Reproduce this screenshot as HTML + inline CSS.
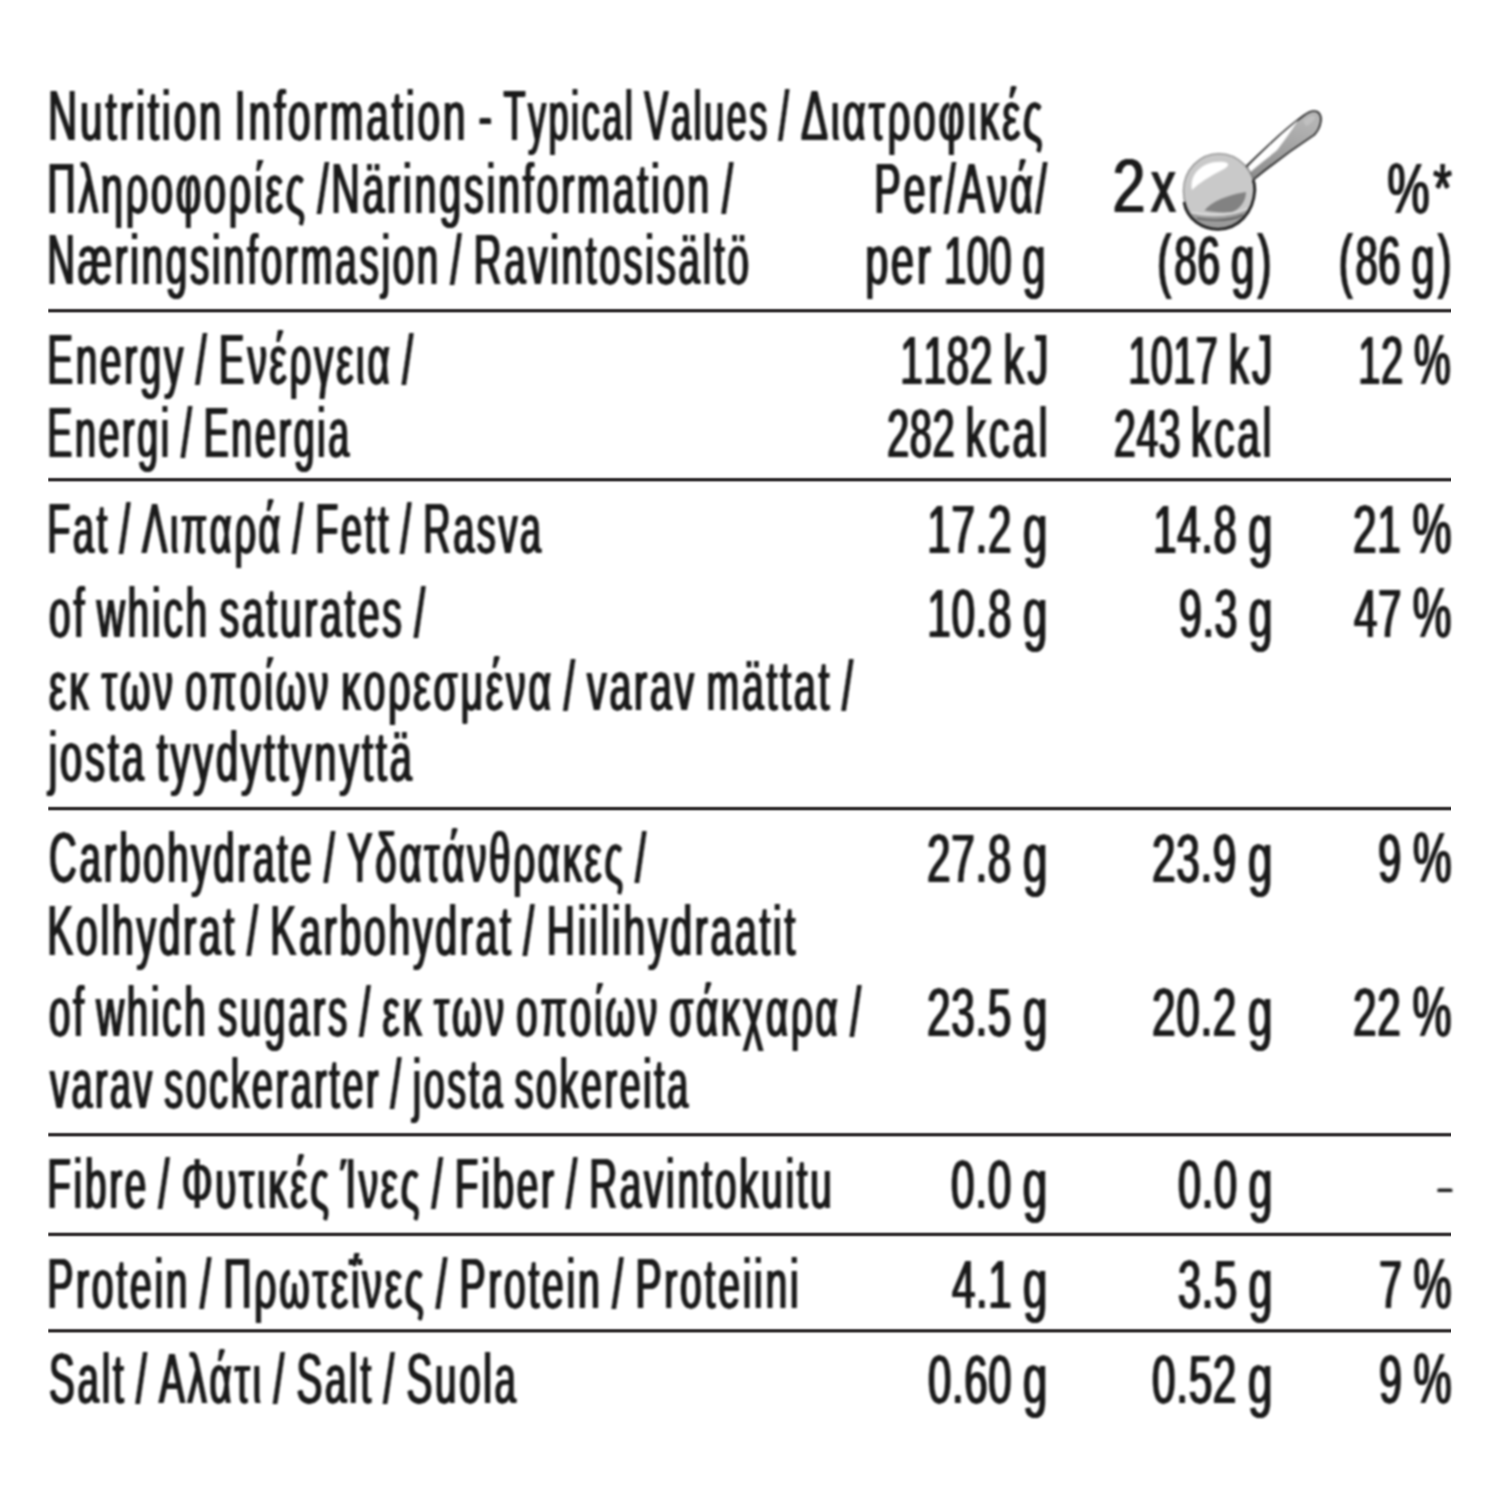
<!DOCTYPE html>
<html><head><meta charset="utf-8"><style>
html,body{margin:0;padding:0;background:#fff;}
svg{display:block;}
text{font-family:"Liberation Sans",sans-serif;font-size:70.5px;fill:#1c1a1b;font-kerning:none;letter-spacing:5px;word-spacing:-7px;}
g.f text{fill:#000;}
.d{font-size:68px;letter-spacing:1px;}
</style></head><body>
<svg width="1500" height="1500" viewBox="0 0 1500 1500">
<rect width="1500" height="1500" fill="#fff"/>
<defs><filter id="bl" x="0" y="0" width="1500" height="1500" filterUnits="userSpaceOnUse" color-interpolation-filters="sRGB"><feGaussianBlur stdDeviation="1.0 0.8"/></filter></defs>
<rect x="48.3" y="307" width="1402.7" height="1" fill="#231f20" fill-opacity="0.023"/>
<rect x="48.3" y="308" width="1402.7" height="1" fill="#231f20" fill-opacity="0.240"/>
<rect x="48.3" y="309" width="1402.7" height="1" fill="#231f20" fill-opacity="0.718"/>
<rect x="48.3" y="310" width="1402.7" height="1" fill="#231f20" fill-opacity="0.960"/>
<rect x="48.3" y="311" width="1402.7" height="1" fill="#231f20" fill-opacity="0.861"/>
<rect x="48.3" y="312" width="1402.7" height="1" fill="#231f20" fill-opacity="0.424"/>
<rect x="48.3" y="313" width="1402.7" height="1" fill="#231f20" fill-opacity="0.070"/>
<rect x="48.3" y="476" width="1402.7" height="1" fill="#231f20" fill-opacity="0.023"/>
<rect x="48.3" y="477" width="1402.7" height="1" fill="#231f20" fill-opacity="0.240"/>
<rect x="48.3" y="478" width="1402.7" height="1" fill="#231f20" fill-opacity="0.718"/>
<rect x="48.3" y="479" width="1402.7" height="1" fill="#231f20" fill-opacity="0.960"/>
<rect x="48.3" y="480" width="1402.7" height="1" fill="#231f20" fill-opacity="0.861"/>
<rect x="48.3" y="481" width="1402.7" height="1" fill="#231f20" fill-opacity="0.424"/>
<rect x="48.3" y="482" width="1402.7" height="1" fill="#231f20" fill-opacity="0.070"/>
<rect x="48.3" y="805" width="1402.7" height="1" fill="#231f20" fill-opacity="0.032"/>
<rect x="48.3" y="806" width="1402.7" height="1" fill="#231f20" fill-opacity="0.282"/>
<rect x="48.3" y="807" width="1402.7" height="1" fill="#231f20" fill-opacity="0.759"/>
<rect x="48.3" y="808" width="1402.7" height="1" fill="#231f20" fill-opacity="0.964"/>
<rect x="48.3" y="809" width="1402.7" height="1" fill="#231f20" fill-opacity="0.831"/>
<rect x="48.3" y="810" width="1402.7" height="1" fill="#231f20" fill-opacity="0.374"/>
<rect x="48.3" y="811" width="1402.7" height="1" fill="#231f20" fill-opacity="0.055"/>
<rect x="48.3" y="1131" width="1402.7" height="1" fill="#231f20" fill-opacity="0.023"/>
<rect x="48.3" y="1132" width="1402.7" height="1" fill="#231f20" fill-opacity="0.240"/>
<rect x="48.3" y="1133" width="1402.7" height="1" fill="#231f20" fill-opacity="0.718"/>
<rect x="48.3" y="1134" width="1402.7" height="1" fill="#231f20" fill-opacity="0.960"/>
<rect x="48.3" y="1135" width="1402.7" height="1" fill="#231f20" fill-opacity="0.861"/>
<rect x="48.3" y="1136" width="1402.7" height="1" fill="#231f20" fill-opacity="0.424"/>
<rect x="48.3" y="1137" width="1402.7" height="1" fill="#231f20" fill-opacity="0.070"/>
<rect x="48.3" y="1231" width="1402.7" height="1" fill="#231f20" fill-opacity="0.055"/>
<rect x="48.3" y="1232" width="1402.7" height="1" fill="#231f20" fill-opacity="0.374"/>
<rect x="48.3" y="1233" width="1402.7" height="1" fill="#231f20" fill-opacity="0.831"/>
<rect x="48.3" y="1234" width="1402.7" height="1" fill="#231f20" fill-opacity="0.964"/>
<rect x="48.3" y="1235" width="1402.7" height="1" fill="#231f20" fill-opacity="0.759"/>
<rect x="48.3" y="1236" width="1402.7" height="1" fill="#231f20" fill-opacity="0.282"/>
<rect x="48.3" y="1237" width="1402.7" height="1" fill="#231f20" fill-opacity="0.032"/>
<rect x="48.3" y="1327" width="1402.7" height="1" fill="#231f20" fill-opacity="0.017"/>
<rect x="48.3" y="1328" width="1402.7" height="1" fill="#231f20" fill-opacity="0.202"/>
<rect x="48.3" y="1329" width="1402.7" height="1" fill="#231f20" fill-opacity="0.673"/>
<rect x="48.3" y="1330" width="1402.7" height="1" fill="#231f20" fill-opacity="0.952"/>
<rect x="48.3" y="1331" width="1402.7" height="1" fill="#231f20" fill-opacity="0.887"/>
<rect x="48.3" y="1332" width="1402.7" height="1" fill="#231f20" fill-opacity="0.474"/>
<rect x="48.3" y="1333" width="1402.7" height="1" fill="#231f20" fill-opacity="0.089"/>
<g filter="url(#bl)">
<defs><filter id="fx" x="0" y="0" width="1500" height="1500" filterUnits="userSpaceOnUse" color-interpolation-filters="sRGB"><feConvolveMatrix order="5 1" kernelMatrix="0 0.75 1 0.75 0" divisor="1" edgeMode="none"/><feColorMatrix type="matrix" values="0 0 0 0 0.1 0 0 0 0 0.1 0 0 0 0 0.1 0 0 0 1 0"/></filter></defs>
<g class="f" filter="url(#fx)">
<text x="48.06" y="139.6" textLength="446.69" lengthAdjust="spacingAndGlyphs">Nutrition Information -</text>
<text x="503.38" y="139.6" textLength="288.05" lengthAdjust="spacingAndGlyphs">Typical Values /</text>
<text x="801.00" y="139.6" textLength="244.35" lengthAdjust="spacingAndGlyphs">Διατροφικές</text>
<text x="47.30" y="212.5" textLength="688.34" lengthAdjust="spacingAndGlyphs">Πληροφορίες /Näringsinformation /</text>
<text x="47.30" y="284.0" textLength="704.27" lengthAdjust="spacingAndGlyphs">Næringsinformasjon / Ravintosisältö</text>
<text x="47.30" y="384.3" textLength="368.32" lengthAdjust="spacingAndGlyphs">Energy / Ενέργεια /</text>
<text x="47.30" y="456.8" textLength="304.44" lengthAdjust="spacingAndGlyphs">Energi / Energia</text>
<text x="47.30" y="553.3" textLength="496.45" lengthAdjust="spacingAndGlyphs">Fat / Λιπαρά / Fett / Rasva</text>
<text x="49.10" y="637.2" textLength="378.75" lengthAdjust="spacingAndGlyphs">of which saturates /</text>
<text x="49.10" y="710.1" textLength="806.51" lengthAdjust="spacingAndGlyphs">εκ των οποίων κορεσμένα / varav mättat /</text>
<text x="48.45" y="781.3" textLength="366.26" lengthAdjust="spacingAndGlyphs">josta tyydyttynyttä</text>
<text x="49.10" y="881.7" textLength="599.50" lengthAdjust="spacingAndGlyphs">Carbohydrate / Υδατάνθρακες /</text>
<text x="47.30" y="954.7" textLength="750.84" lengthAdjust="spacingAndGlyphs">Kolhydrat / Karbohydrat / Hiilihydraatit</text>
<text x="49.10" y="1035.8" textLength="814.55" lengthAdjust="spacingAndGlyphs">of which sugars / εκ των οποίων σάκχαρα /</text>
<text x="50.00" y="1107.8" textLength="640.75" lengthAdjust="spacingAndGlyphs">varav sockerarter / josta sokereita</text>
<text x="47.30" y="1207.8" textLength="787.19" lengthAdjust="spacingAndGlyphs">Fibre / Φυτικές Ίνες / Fiber / Ravintokuitu</text>
<text x="47.30" y="1307.8" textLength="754.17" lengthAdjust="spacingAndGlyphs">Protein / Πρωτεΐνες / Protein / Proteiini</text>
<text x="49.10" y="1403.3" textLength="469.68" lengthAdjust="spacingAndGlyphs">Salt / Αλάτι / Salt / Suola</text>
<text x="874.30" y="212.5" textLength="175.35" lengthAdjust="spacingAndGlyphs">Per/Ανά/</text>
<text x="865.20" y="284.0" textLength="183.33" lengthAdjust="spacingAndGlyphs">per <tspan class="d">100</tspan> g</text>
<text x="900.30" y="384.3" textLength="151.14" lengthAdjust="spacingAndGlyphs"><tspan class="d">1182</tspan> kJ</text>
<text x="887.10" y="456.8" textLength="163.39" lengthAdjust="spacingAndGlyphs"><tspan class="d">282</tspan> kcal</text>
<text x="927.30" y="553.3" textLength="123.12" lengthAdjust="spacingAndGlyphs"><tspan class="d">17.2</tspan> g</text>
<text x="927.30" y="637.2" textLength="123.12" lengthAdjust="spacingAndGlyphs"><tspan class="d">10.8</tspan> g</text>
<text x="927.10" y="881.7" textLength="123.32" lengthAdjust="spacingAndGlyphs"><tspan class="d">27.8</tspan> g</text>
<text x="927.10" y="1035.8" textLength="123.32" lengthAdjust="spacingAndGlyphs"><tspan class="d">23.5</tspan> g</text>
<text x="951.10" y="1207.8" textLength="99.27" lengthAdjust="spacingAndGlyphs"><tspan class="d">0.0</tspan> g</text>
<text x="952.00" y="1307.8" textLength="98.37" lengthAdjust="spacingAndGlyphs"><tspan class="d">4.1</tspan> g</text>
<text x="928.10" y="1403.3" textLength="122.32" lengthAdjust="spacingAndGlyphs"><tspan class="d">0.60</tspan> g</text>
<text x="1157.20" y="284.0" textLength="117.29" lengthAdjust="spacingAndGlyphs">(<tspan class="d">86</tspan> g)</text>
<text x="1128.20" y="384.3" textLength="147.20" lengthAdjust="spacingAndGlyphs"><tspan class="d">1017</tspan> kJ</text>
<text x="1114.10" y="456.8" textLength="160.39" lengthAdjust="spacingAndGlyphs"><tspan class="d">243</tspan> kcal</text>
<text x="1153.30" y="553.3" textLength="122.12" lengthAdjust="spacingAndGlyphs"><tspan class="d">14.8</tspan> g</text>
<text x="1179.10" y="637.2" textLength="96.27" lengthAdjust="spacingAndGlyphs"><tspan class="d">9.3</tspan> g</text>
<text x="1152.10" y="881.7" textLength="123.32" lengthAdjust="spacingAndGlyphs"><tspan class="d">23.9</tspan> g</text>
<text x="1152.10" y="1035.8" textLength="123.32" lengthAdjust="spacingAndGlyphs"><tspan class="d">20.2</tspan> g</text>
<text x="1178.10" y="1207.8" textLength="97.27" lengthAdjust="spacingAndGlyphs"><tspan class="d">0.0</tspan> g</text>
<text x="1178.10" y="1307.8" textLength="97.27" lengthAdjust="spacingAndGlyphs"><tspan class="d">3.5</tspan> g</text>
<text x="1152.10" y="1403.3" textLength="123.32" lengthAdjust="spacingAndGlyphs"><tspan class="d">0.52</tspan> g</text>
<text x="1387.34" y="212.5" textLength="67.81" lengthAdjust="spacingAndGlyphs">%*</text>
<text x="1338.70" y="284.0" textLength="115.79" lengthAdjust="spacingAndGlyphs">(<tspan class="d">86</tspan> g)</text>
<text x="1358.20" y="384.3" textLength="95.37" lengthAdjust="spacingAndGlyphs"><tspan class="d">12</tspan> %</text>
<text x="1353.10" y="553.3" textLength="101.47" lengthAdjust="spacingAndGlyphs"><tspan class="d">21</tspan> %</text>
<text x="1354.00" y="637.2" textLength="100.57" lengthAdjust="spacingAndGlyphs"><tspan class="d">47</tspan> %</text>
<text x="1378.10" y="881.7" textLength="76.53" lengthAdjust="spacingAndGlyphs"><tspan class="d">9</tspan> %</text>
<text x="1353.10" y="1035.8" textLength="101.47" lengthAdjust="spacingAndGlyphs"><tspan class="d">22</tspan> %</text>
<text x="1435.70" y="1201.2" style="font-size:41px" textLength="24.84" lengthAdjust="spacingAndGlyphs">-</text>
<text x="1379.10" y="1307.8" textLength="75.53" lengthAdjust="spacingAndGlyphs"><tspan class="d">7</tspan> %</text>
<text x="1379.10" y="1403.3" textLength="75.53" lengthAdjust="spacingAndGlyphs"><tspan class="d">9</tspan> %</text>
<text x="1112.44" y="211.5" style="font-size:75.5px" textLength="36.80" lengthAdjust="spacingAndGlyphs">2</text>
<text x="1150.86" y="211.5" style="font-size:75.5px" textLength="28.50" lengthAdjust="spacingAndGlyphs">x</text>
</g>
<g>

</g>
<g id="spoon">
<defs><linearGradient id="hg" x1="0" y1="1" x2="0.3" y2="0"><stop offset="0" stop-color="#8c8c8c"/><stop offset="1" stop-color="#b4b4b4"/></linearGradient></defs>
<path d="M1246.6,166 C1262,151 1284,130 1303,116 C1308,112 1313,110 1317,111.5 C1320.5,113 1321.5,118 1320.7,122 C1320,127 1317.5,131.5 1314.3,134.9 C1305,141 1280,158 1253.2,179.8 Z" fill="url(#hg)" stroke="#1e1e1e" stroke-width="1.7"/>
<path d="M1247.8,167.2 C1260,154 1280,135 1298,120 C1292,130 1284,141 1277,150.3 C1268,158 1258,165 1250.5,172 Z" fill="#ffffff"/>
<path d="M1303,121 C1307,116.5 1312,114.5 1315.5,116.5 C1315,120 1310,124.5 1306,126 Z" fill="#c0c0c0"/>
<ellipse cx="1219" cy="191" rx="35.6" ry="37.4" fill="#c9c9c9" stroke="#8a8a8a" stroke-width="1.3"/>
<path d="M1192,190 C1189,174 1203,160 1224,162 C1230,163 1229,166 1224,169 C1210,176 1199,183 1192,190 Z" fill="#ffffff"/>
<path d="M1204.5,210.5 C1212,201 1228,195 1246,192 C1246,201 1240,209 1232,212 C1222,213 1212,212 1204.5,210.5 Z" fill="#828282"/>
<path d="M1189,213 C1205,218 1235,218 1250,207 C1245,220 1232,228 1218,228.5 C1204,228 1194,222 1189,213 Z" fill="#9a9a9a"/>
<path d="M1191,212.5 C1210,216 1232,216 1248,208.5" fill="none" stroke="#e0e0e0" stroke-width="1.5"/>
<path d="M1197,218.5 C1212,221 1230,221 1243,215" fill="none" stroke="#444" stroke-width="1.1"/>
<path d="M1184,202 C1187,220 1203,229.3 1218,229.3 C1238,229.3 1253.5,213 1254.8,190 C1254.8,186 1254.3,183 1253.3,180" fill="none" stroke="#1e1e1e" stroke-width="2.8"/>
</g>
</g>
</svg>
</body></html>
